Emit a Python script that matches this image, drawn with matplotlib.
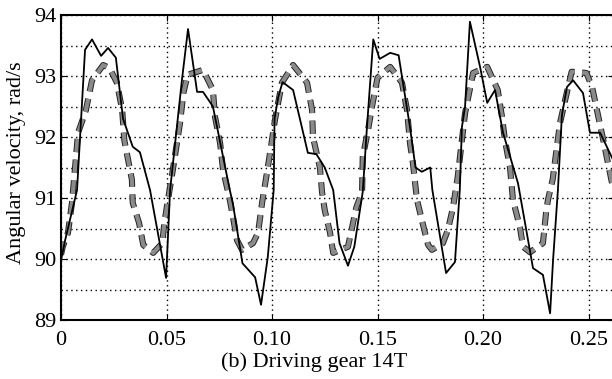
import numpy as np
import matplotlib
matplotlib.use('Agg')
import matplotlib.pyplot as plt
import matplotlib.patheffects as pe
from matplotlib.ticker import MultipleLocator

# solid trace (time in s, angular velocity in rad/s)
t_solid = [0.0, 0.0019, 0.0076, 0.0114, 0.0147, 0.019, 0.0223, 0.026, 0.0294, 0.034,
           0.0374, 0.0422, 0.0498, 0.0517, 0.0573, 0.0602, 0.0645, 0.0673, 0.072, 0.080,
           0.0815, 0.086, 0.092, 0.0948, 0.098, 0.1008, 0.1012, 0.103, 0.105, 0.11,
           0.113, 0.117, 0.121, 0.125, 0.129, 0.132, 0.136, 0.139, 0.143, 0.145,
           0.148, 0.151, 0.156, 0.16, 0.1654, 0.168, 0.171, 0.175, 0.176, 0.1825,
           0.1867, 0.189, 0.19, 0.1915, 0.1938, 0.1986, 0.202, 0.2057, 0.2095, 0.2166,
           0.2237, 0.2284, 0.2318, 0.2332, 0.2355, 0.2374, 0.2398, 0.2427, 0.2474, 0.2507,
           0.2555, 0.262]
w_solid = [89.98, 90.3, 91.13, 93.43, 93.6, 93.33, 93.46, 93.3, 92.3, 91.84,
           91.75, 91.13, 89.69, 91.13, 92.93, 93.77, 92.74, 92.74, 92.5, 91.13,
           90.9, 89.93, 89.7, 89.25, 90.03, 91.13, 92.3, 92.66, 92.9, 92.77,
           92.33, 91.74, 91.72, 91.5, 91.13, 90.26, 89.89, 90.2, 91.1, 92.16,
           93.6, 93.28, 93.38, 93.34, 92.16, 91.5, 91.43, 91.5, 91.13, 89.77,
           89.95, 91.13, 92.16, 92.5, 93.89, 93.15, 92.56, 92.77, 92.07, 91.24,
           89.85, 89.74, 89.11, 89.98, 91.13, 92.36, 92.82, 92.93, 92.72, 92.07,
           92.07, 91.6]

# dashed trace
t_dash = [0.0, 0.0008, 0.0033, 0.0052, 0.0081, 0.0118, 0.0147, 0.020, 0.023, 0.0265,
          0.029, 0.030, 0.0336, 0.034, 0.037, 0.039, 0.0437, 0.048, 0.049, 0.0507,
          0.053, 0.0564, 0.058, 0.060, 0.0673, 0.072, 0.073, 0.0754, 0.0768, 0.080,
          0.0815, 0.0834, 0.0858, 0.091, 0.0934, 0.0953, 0.098, 0.100, 0.1014, 0.1047,
          0.110, 0.1166, 0.119, 0.1194, 0.1227, 0.1237, 0.125, 0.1275, 0.129, 0.136,
          0.1384, 0.140, 0.1427, 0.143, 0.1455, 0.1474, 0.150, 0.156, 0.1616, 0.164,
          0.1654, 0.1668, 0.1687, 0.1725, 0.174, 0.1758, 0.181, 0.1834, 0.1858, 0.188,
          0.190, 0.1915, 0.1953, 0.202, 0.207, 0.209, 0.2104, 0.2128, 0.2142, 0.2175,
          0.219, 0.2223, 0.2284, 0.230, 0.2308, 0.233, 0.2365, 0.2389, 0.242, 0.249,
          0.2517, 0.254, 0.257, 0.262]
w_dash = [90.07, 90.2, 90.43, 90.92, 92.07, 92.44, 92.93, 93.18, 93.13, 92.89,
          92.44, 91.95, 91.3, 90.92, 90.59, 90.23, 90.1, 90.26, 90.6, 90.97,
          91.46, 92.23, 92.72, 93.02, 93.1, 92.77, 92.33, 91.9, 91.46, 90.97,
          90.69, 90.31, 90.15, 90.26, 90.43, 90.92, 91.5, 91.95, 92.28, 92.89,
          93.18, 92.89, 92.44, 92.0, 91.5, 91.1, 90.8, 90.43, 90.1, 90.2,
          90.59, 90.85, 91.1, 91.67, 92.11, 92.5, 92.97, 93.15, 92.89, 92.44,
          91.9, 91.57, 90.97, 90.43, 90.23, 90.15, 90.26, 90.48, 90.85, 91.34,
          91.95, 92.39, 93.05, 93.15, 92.77, 92.33, 91.95, 91.5, 90.97, 90.52,
          90.2, 90.11, 90.26, 90.8, 90.97, 91.3, 92.23, 92.6, 93.07, 93.05,
          92.82, 92.44, 91.95, 91.1]

xticks = [0, 0.05, 0.10, 0.15, 0.20, 0.25]
xticklabels = ['0', '0.05', '0.10', '0.15', '0.20', '0.25']
yticks = [89, 90, 91, 92, 93, 94]

plt.rcParams['font.family'] = 'Liberation Serif'
plt.rcParams['font.size'] = 16

fig = plt.figure(figsize=(6.12, 3.79), dpi=100)
W, H = 612.0, 379.0
x0, x1, ytop, ybot = 61, 614, 15, 320
ax = fig.add_axes([x0 / W, (H - ybot) / H, (x1 - x0) / W, (ybot - ytop) / H])

ax.plot(t_dash, w_dash, color='#8a8a8a', linewidth=3.0, dashes=(3.2, 1.8),
        solid_capstyle='butt', dash_capstyle='butt',
        path_effects=[pe.Stroke(linewidth=4.4, foreground='#222222'), pe.Normal()])
ax.plot(t_solid, w_solid, color='black', linewidth=1.3)

ax.set_xlim(0, (x1 - x0) / 2110.0)
ax.set_ylim(89, 94)
ax.set_xticks(xticks)
ax.set_xticklabels(xticklabels)
ax.set_yticks(yticks)
ax.yaxis.set_minor_locator(MultipleLocator(0.5))
ax.tick_params(which='both', direction='in', top=True, right=True, length=4)
ax.tick_params(which='minor', length=0)
ax.tick_params(axis='x', pad=8)
ax.grid(True, which='both', color='black', linestyle=(0, (1, 2.5)), linewidth=1.0)
for s in ax.spines.values():
    s.set_linewidth(1.5)

fig.text(314 / W, 1 - 362 / H, '(b) Driving gear 14T', ha='center', va='center', fontsize=16)
fig.text(17 / W, 1 - 163 / H, 'Angular velocity, rad/s', ha='center', va='center',
         rotation=90, fontsize=16)

fig.savefig('out.png', dpi=100)
